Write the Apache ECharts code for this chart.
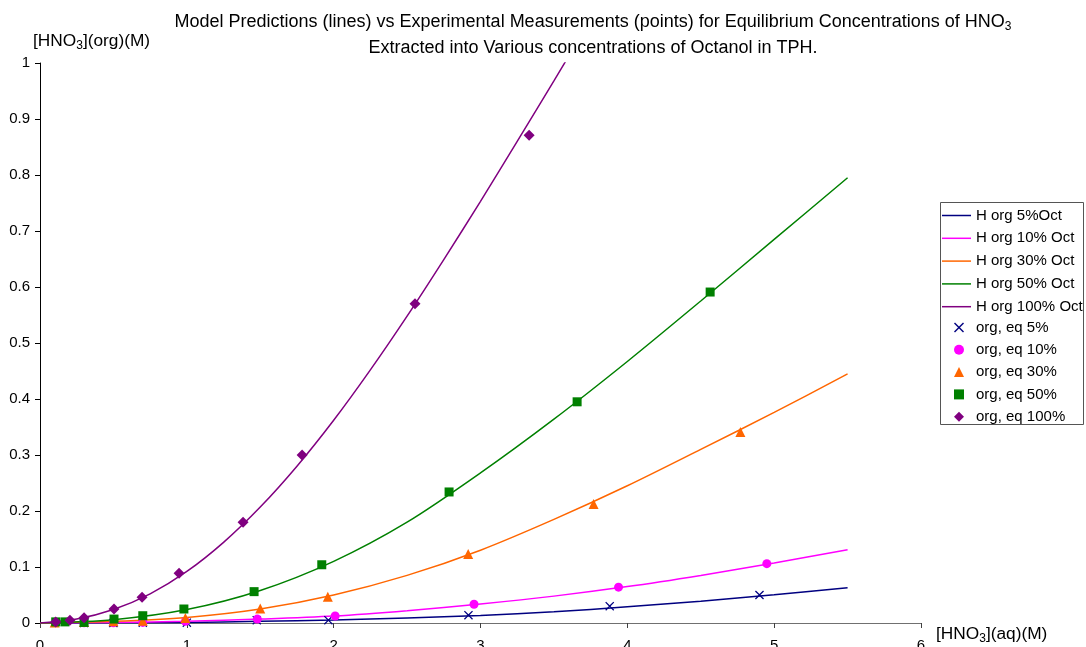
<!DOCTYPE html>
<html>
<head>
<meta charset="utf-8">
<script src="https://cdn.jsdelivr.net/npm/echarts@6/dist/echarts.min.js"></script>
<style>
html,body{margin:0;padding:0;background:#fff;}
#chart{width:1086px;height:647px;}
</style>
</head>
<body>
<div id="chart"></div>
<script>
// ---------- data ----------
const xTicks = [0, 1, 2, 3, 4, 5, 6];
const yTicks = [0, 0.1, 0.2, 0.3, 0.4, 0.5, 0.6, 0.7, 0.8, 0.9, 1];

const lineNames = ['H org 5%Oct', 'H org 10% Oct', 'H org 30% Oct', 'H org 50% Oct', 'H org 100% Oct'];
const pointNames = ['org, eq 5%', 'org, eq 10%', 'org, eq 30%', 'org, eq 50%', 'org, eq 100%'];

// model curves
const model5 = [[0,0],[0.5,0.0003],[1.0,0.001],[1.5,0.003],[2.0,0.0055],[2.5,0.009],[3.0,0.0135],[3.5,0.02],[4.0,0.029],[4.5,0.039],[5.0,0.0505],[5.5,0.063]];
const model10 = [[0,0],[0.5,0.001],[1.0,0.003],[1.5,0.007],[2.0,0.0125],[2.5,0.022],[3.0,0.034],[3.5,0.048],[4.0,0.065],[4.5,0.085],[5.0,0.107],[5.5,0.131]];
const model30 = [[0,0],[0.5,0.003],[1.0,0.01],[1.5,0.025],[2.0,0.05],[2.5,0.085],[3.0,0.13],[3.5,0.185],[4.0,0.245],[4.5,0.31],[5.0,0.376],[5.5,0.445]];
const model50 = [[0,0],[0.5,0.006],[1.0,0.024],[1.5,0.058],[2.0,0.11],[2.5,0.18],[3.0,0.268],[3.5,0.364],[4.0,0.467],[4.5,0.575],[5.0,0.685],[5.5,0.795]];
const model100 = [[0,0],[0.25,0.007],[0.5,0.024],[0.75,0.052],[1.0,0.092],[1.25,0.144],[1.5,0.207],[1.75,0.28],[2.0,0.362],[2.25,0.452],[2.5,0.548],[2.75,0.649],[3.0,0.753],[3.25,0.86],[3.5,0.968],[3.75,1.078]];

// experimental points
const eq5 = [[0.3,0],[0.5,0],[0.7,0.0005],[1.0,0.0005],[1.476,0.005],[1.964,0.005],[2.918,0.014],[3.88,0.030],[4.90,0.050]];
const eq10 = [[0.3,0.0005],[0.5,0.0005],[0.7,0.001],[0.99,0.003],[1.48,0.007],[2.01,0.0125],[2.956,0.0334],[3.94,0.064],[4.95,0.106]];
const eq30 = [[0.1,0.001],[0.3,0.002],[0.5,0.003],[0.7,0.004],[0.99,0.009],[1.50,0.026],[1.96,0.047],[2.916,0.123],[3.77,0.2125],[4.77,0.341]];
const eq50 = [[0.107,0.002],[0.17,0.002],[0.30,0.001],[0.504,0.007],[0.70,0.013],[0.98,0.025],[1.458,0.056],[1.919,0.104],[2.786,0.234],[3.658,0.395],[4.564,0.591]];
const eq100 = [[0.107,0.002],[0.204,0.005],[0.30,0.0095],[0.504,0.025],[0.695,0.046],[0.947,0.089],[1.383,0.18],[1.785,0.30],[2.554,0.57],[3.331,0.871]];

// ---------- styling ----------
const FONT = "'Liberation Sans', Arial, sans-serif";
const colors = ['#000080', '#FF00FF', '#FF6600', '#008000', '#800080'];
const X_PATH = 'path://M0,1L1,0L5,4L9,0L10,1L6,5L10,9L9,10L5,6L1,10L0,9L4,5Z';
const symbols = [X_PATH, 'circle', 'triangle', 'rect', 'diamond'];
const symbolSizes = [9, 9, 10, 9, 11];

const modelData = [model5, model10, model30, model50, model100];
const eqData = [eq5, eq10, eq30, eq50, eq100];

const series = [];
modelData.forEach((d, i) => {
  series.push({
    name: lineNames[i], type: 'line', data: d, smooth: 0.3, symbol: 'none',
    lineStyle: {color: colors[i], width: 1.5}, itemStyle: {color: colors[i]},
    clip: true, z: 2
  });
});
eqData.forEach((d, i) => {
  series.push({
    name: pointNames[i], type: 'scatter', data: d, symbol: symbols[i], symbolSize: symbolSizes[i],
    itemStyle: {color: colors[i], opacity: 1}, z: 3 + i
  });
});

const rich = {
  a: {fontSize: 18, fontFamily: FONT, color: '#000', lineHeight: 22, verticalAlign: 'middle'},
  s: {fontSize: 12, fontFamily: FONT, color: '#000', lineHeight: 12, verticalAlign: 'bottom'}
};
const richAx = {
  a: {fontSize: 17.3, fontFamily: FONT, color: '#000', lineHeight: 22, verticalAlign: 'middle'},
  s: {fontSize: 12, fontFamily: FONT, color: '#000', lineHeight: 12, verticalAlign: 'bottom'}
};

const chart = echarts.init(document.getElementById('chart'), null, {renderer: 'canvas'});
chart.setOption({
  animation: false,
  backgroundColor: '#fff',
  textStyle: {fontFamily: FONT},
  grid: {left: 40, top: 63, width: 881, height: 560, containLabel: false, outerBoundsMode: 'none'},
  xAxis: {
    type: 'value', min: xTicks[0], max: xTicks[xTicks.length - 1], interval: xTicks[1] - xTicks[0],
    axisLine: {show: true, lineStyle: {color: '#707070', width: 1}},
    axisTick: {show: true, length: 5, lineStyle: {color: '#404040'}},
    axisLabel: {fontSize: 15, color: '#000', margin: 15, fontFamily: FONT},
    splitLine: {show: false}
  },
  yAxis: {
    type: 'value', min: yTicks[0], max: yTicks[yTicks.length - 1], interval: 0.1,
    axisLine: {show: true, lineStyle: {color: '#000', width: 1}},
    axisTick: {show: true, length: 5, lineStyle: {color: '#000'}},
    axisLabel: {fontSize: 15, color: '#000', margin: 10, fontFamily: FONT},
    splitLine: {show: false}
  },
  legend: [
    {
      data: lineNames.map(n => ({name: n, icon: 'rect'})), orient: 'vertical', left: 942, top: 208, padding: 0,
      itemWidth: 29, itemHeight: 1.5, itemGap: 7.8,
      textStyle: {fontSize: 15, color: '#000', lineHeight: 14, fontFamily: FONT},
      selectedMode: false
    },
    {
      data: pointNames, orient: 'vertical', left: 954, top: 320, padding: 0,
      itemWidth: 10, itemHeight: 10, itemGap: 7.3,
      textStyle: {fontSize: 15, color: '#000', lineHeight: 14, fontFamily: FONT, padding: [0, 0, 0, 7]},
      selectedMode: false
    }
  ],
  graphic: [
    {type: 'text', x: 593, y: 22, z: 10, style: {
      text: '{a|Model Predictions (lines) vs Experimental Measurements (points) for Equilibrium Concentrations of HNO}{s|3}',
      rich: rich, align: 'center', verticalAlign: 'middle'}},
    {type: 'text', x: 593, y: 48, z: 10, style: {
      text: '{a|Extracted into Various concentrations of Octanol in TPH.}',
      rich: rich, align: 'center', verticalAlign: 'middle'}},
    {type: 'text', x: 33, y: 41, z: 10, style: {
      text: '{a|[HNO}{s|3}{a|](org)(M)}', rich: richAx, align: 'left', verticalAlign: 'middle'}},
    {type: 'text', x: 936, y: 634, z: 10, style: {
      text: '{a|[HNO}{s|3}{a|](aq)(M)}', rich: richAx, align: 'left', verticalAlign: 'middle'}},
    {type: 'rect', z: 0, shape: {x: 940.5, y: 202.5, width: 143, height: 222},
      style: {fill: 'none', stroke: '#555', lineWidth: 1}}
  ],
  series: series
});
</script>
</body>
</html>
